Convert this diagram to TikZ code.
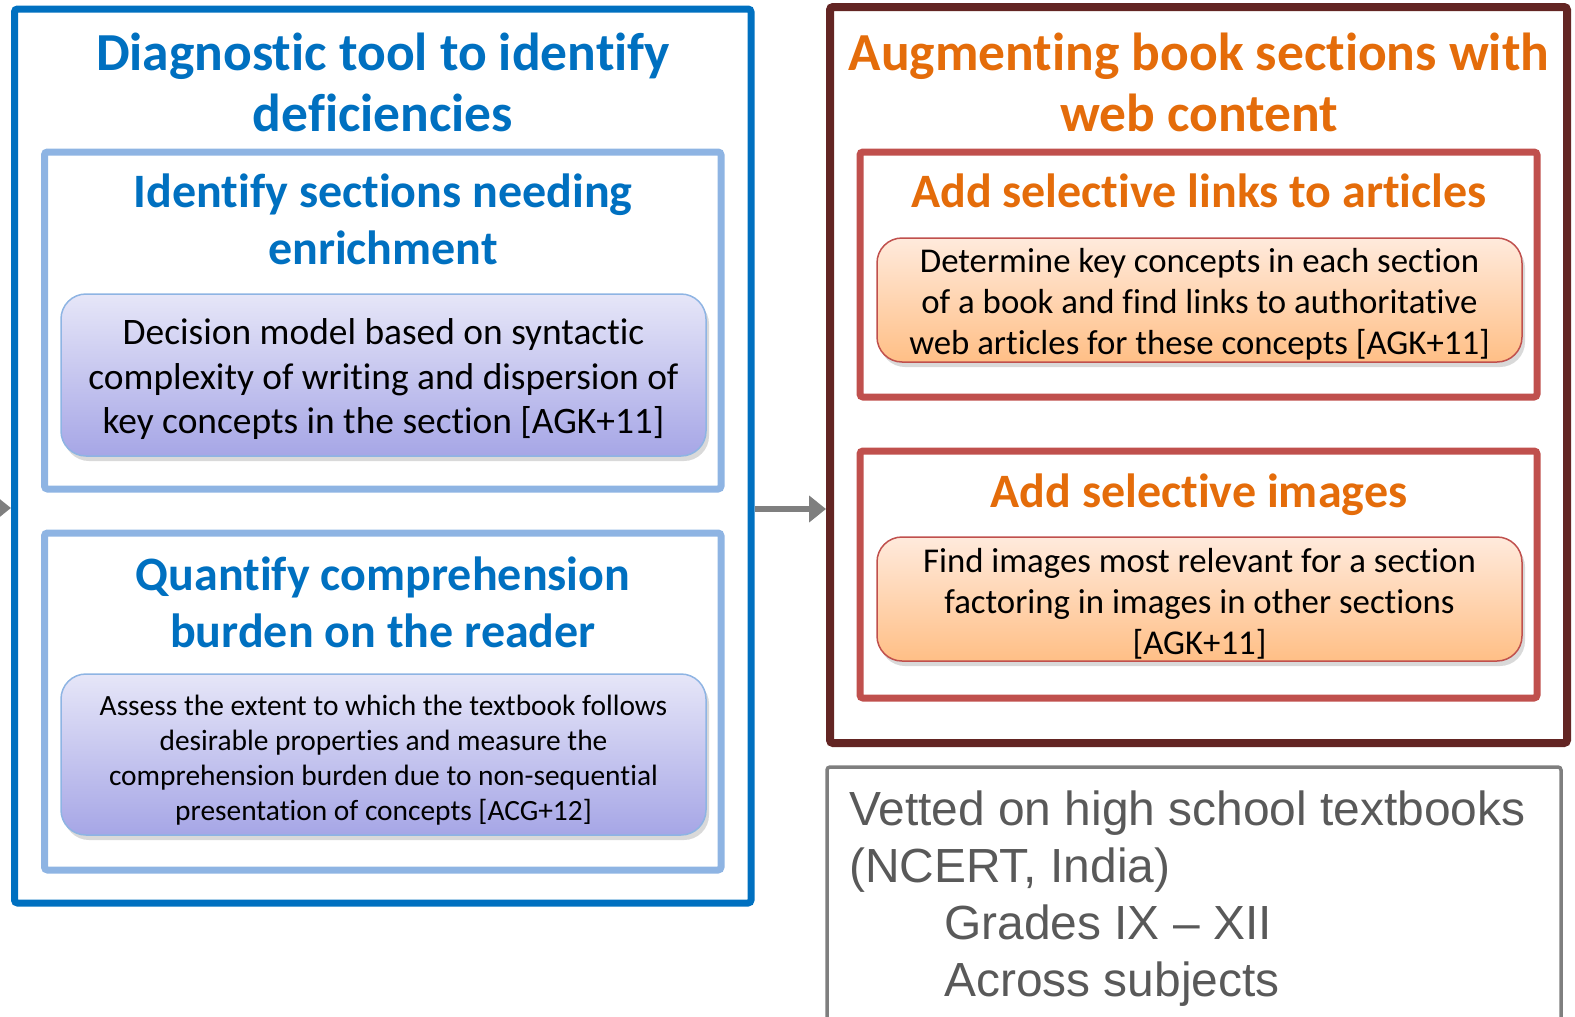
\documentclass[tikz,border=0pt]{standalone}
\usepackage{fontspec}
\setmainfont{Carlito}[Ligatures={NoCommon,NoContextual}]
\newfontfamily\notefont{Liberation Sans}
\usetikzlibrary{arrows.meta,shadows}

\definecolor{diagblue}{HTML}{0070C0}
\definecolor{paleblue}{HTML}{8EB4E3}
\definecolor{darkmaroon}{HTML}{632523}
\definecolor{brickred}{HTML}{C0504D}
\definecolor{titleorange}{HTML}{E46C0A}
\definecolor{arrowgray}{HTML}{7F7F7F}
\definecolor{notegray}{HTML}{595959}
\definecolor{lavtop}{HTML}{E6E6F8}
\definecolor{lavbot}{HTML}{A6A6E6}
\definecolor{orgtop}{HTML}{FFEADC}
\definecolor{orgbot}{HTML}{FFBF86}

\newcommand\fsz[2]{\fontsize{#1}{#2}\selectfont}

\begin{document}
\begin{tikzpicture}[x=1pt,y=-1pt,
  frame/.style={draw, rectangle, rounded corners=3pt, inner sep=0pt},
  bigtitle/.style={align=center, inner sep=0pt, font=\fsz{53.5}{61}\bfseries},
  subtitle/.style={align=center, inner sep=0pt, font=\fsz{48}{57}\bfseries},
  softbox/.style={rectangle, rounded corners=25pt, line width=1.5pt, inner sep=0pt,
    drop shadow={shadow xshift=3pt, shadow yshift=-5pt, opacity=0.3}},
  lavbox/.style={softbox, draw=paleblue, top color=lavtop, bottom color=lavbot},
  orgbox/.style={softbox, draw=brickred, top color=orgtop, bottom color=orgbot},
  boxtext/.style={align=center, inner sep=0pt, text=black},
  flow/.style={draw=arrowgray, line width=6pt, -{Triangle[length=17pt, width=26pt]}}
]
\useasboundingbox (0,0) rectangle (1575,1017);

% ---- diagnostic tool (left) ----
\node[frame, draw=diagblue, line width=7pt, minimum width=736.5pt, minimum height=894pt]
  (diag) at (382.75,456) {};
\node[frame, draw=paleblue, line width=7pt, minimum width=676.5pt, minimum height=337pt]
  (enrich) at (382.75,320.5) {};
\node[frame, draw=paleblue, line width=7pt, minimum width=676.5pt, minimum height=337pt]
  (burden) at (382.75,701.5) {};

\node[bigtitle, text=diagblue] (diagtitle) at (383,82.5)
  {Diagnostic tool to identify\\deficiencies};
\node[subtitle, text=diagblue] (enrichtitle) at (383,219)
  {Identify sections needing\\enrichment};
\node[subtitle, text=diagblue] (burdentitle) at (383,602)
  {Quantify comprehension\\burden on the reader};

\node[lavbox, minimum width=645pt, minimum height=162pt] (decision) at (383.5,375) {};
\node[boxtext, font=\fsz{37.4}{44.5}] (decisiontext) at ([yshift=-4.5pt]decision.center)
  {Decision model based on syntactic\\complexity of writing and dispersion of\\key concepts in the section [AGK+11]};
\node[lavbox, minimum width=645pt, minimum height=161pt] (assess) at (383.5,754.5) {};
\node[boxtext, font=\fsz{29.4}{35}] (assesstext) at ([yshift=-6pt]assess.center)
  {Assess the extent to which the textbook follows\\desirable properties and measure the\\comprehension burden due to non-sequential\\presentation of concepts [ACG+12]};

% ---- augmentation (right) ----
\node[frame, draw=darkmaroon, line width=8pt, minimum width=737pt, minimum height=736pt]
  (augment) at (1198.5,375) {};
\node[frame, draw=brickred, line width=7pt, minimum width=677pt, minimum height=245pt]
  (links) at (1198.5,274.5) {};
\node[frame, draw=brickred, line width=7pt, minimum width=677pt, minimum height=247pt]
  (images) at (1198.5,574.5) {};

\node[bigtitle, text=titleorange] (augtitle) at (1199,82.5)
  {Augmenting book sections with\\web content};
\node[subtitle, text=titleorange] (linkstitle) at (1199,191)
  {Add selective links to articles};
\node[subtitle, text=titleorange] (imagestitle) at (1199,495)
  {Add selective images};

\node[orgbox, minimum width=645pt, minimum height=124pt] (concepts) at (1199.5,300) {};
\node[boxtext, font=\fsz{34.8}{41}] (conceptstext) at ([yshift=-4pt]concepts.center)
  {Determine key concepts in each section\\of a book and find links to authoritative\\web articles for these concepts [AGK+11]};
\node[orgbox, minimum width=645pt, minimum height=124pt] (relevant) at (1199.5,599) {};
\node[boxtext, font=\fsz{34.8}{41}] (relevanttext) at ([yshift=-5pt]relevant.center)
  {Find images most relevant for a section\\factoring in images in other sections\\{[AGK+11]}};

% ---- evaluation note ----
\node[frame, draw=arrowgray, line width=3.5pt, minimum width=734pt, minimum height=293pt]
  (note) at (1194,913.5) {};
\node[anchor=north west, align=left, inner sep=0pt, text=notegray,
  font=\notefont\fsz{47.9}{57}] (notetext) at (849,791)
  {Vetted on high school textbooks\\(NCERT, India)\\\hspace*{95pt}Grades IX – XII\\\hspace*{95pt}Across subjects};

% ---- connectors ----
\coordinate (incoming) at (-30,508);
\draw[flow] (incoming) -- (incoming -| diag.west);
\draw[flow] (diag.east |- 0,509) -- (augment.west |- 0,509);
\end{tikzpicture}
\end{document}
